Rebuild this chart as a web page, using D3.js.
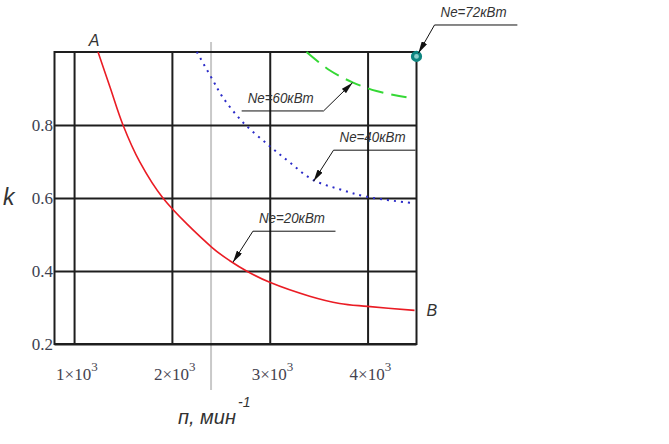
<!DOCTYPE html>
<html>
<head>
<meta charset="utf-8">
<script src="https://cdn.jsdelivr.net/npm/d3@7"></script>
<style>
  body { margin: 0; background: #fff; }
  svg { display: block; }
</style>
</head>
<body>
<svg id="chart"></svg>
<script>
// n, min^-1 vs k
const nNe20 = [1245, 1367, 1500, 1673, 1908, 2408, 2592, 2776, 3000, 3408, 3714, 4000, 4480];
const kNe20 = [1.0, 0.904, 0.8, 0.698, 0.6, 0.465, 0.428, 0.398, 0.369, 0.331, 0.311, 0.303, 0.292];

const nNe40 = [2255, 2418, 2520, 2724, 3000, 3203, 3439, 3714, 4000, 4460];
const kNe40 = [1.0, 0.923, 0.876, 0.808, 0.742, 0.698, 0.65, 0.624, 0.603, 0.586];

const nNe60 = [3376, 3612, 3846, 4091, 4398];
const kNe60 = [1.0, 0.95, 0.917, 0.893, 0.876];

const nNe72 = 4500;
const kNe72 = 0.988;

const nMarker = 2400;   // light grey vertical line

const xTicks = [1000, 2000, 3000, 4000];
const yTicks = [0.2, 0.4, 0.6, 0.8];

// callouts: tip (n,k), elbow (n,k), shelf end n
const calloutLabels = ['Ne=72кВт', 'Ne=60кВт', 'Ne=40кВт', 'Ne=20кВт'];
const calloutTipN = [4520, 3846, 3448, 2624];
const calloutTipK = [0.997, 0.916, 0.646, 0.424];
const calloutElbowN = [4684, 3550, 3652, 2828];
const calloutElbowK = [1.074, 0.8385, 0.731, 0.509];
const calloutEndN = [5531, 2713, 4490, 3672];

const W = 669, H = 444;
const svg = d3.select('#chart').attr('width', W).attr('height', H);

const x = d3.scaleLinear().domain([800, 4500]).range([54.5, 416.5]);
const y = d3.scaleLinear().domain([0.2, 1.0]).range([344, 52]);

const gridColor = '#1e1e1e';

// grey vertical line
svg.append('line')
  .attr('x1', x(nMarker)).attr('x2', x(nMarker))
  .attr('y1', 42).attr('y2', 390)
  .attr('stroke', '#c9c9c9').attr('stroke-width', 2);

// vertical grid
const gx = svg.append('g')
  .attr('transform', `translate(0,${y(0.2)})`)
  .call(d3.axisBottom(x).tickValues(xTicks).tickSize(-(y(0.2) - y(1.0))).tickFormat(''))
  .call(g => g.select('.domain').remove());
gx.selectAll('.tick line').attr('stroke', gridColor).attr('stroke-width', 2);
gx.selectAll('.tick text').remove();

// horizontal grid
const gy = svg.append('g')
  .attr('transform', `translate(${x(800)},0)`)
  .call(d3.axisLeft(y).tickValues(yTicks).tickSize(-(x(4500) - x(800))).tickFormat(''))
  .call(g => g.select('.domain').remove());
gy.selectAll('.tick line').attr('stroke', gridColor).attr('stroke-width', 2);
gy.selectAll('.tick text').remove();

// frame
svg.append('rect')
  .attr('x', x(800)).attr('y', y(1.0))
  .attr('width', x(4500) - x(800)).attr('height', y(0.2) - y(1.0))
  .attr('fill', 'none').attr('stroke', gridColor).attr('stroke-width', 2);

// tick labels
const tickFont = '"Liberation Serif", "Times New Roman", serif';
svg.append('g').selectAll('text')
  .data(yTicks)
  .join('text')
  .attr('x', 53)
  .attr('y', d => y(d) + 6)
  .attr('text-anchor', 'end')
  .attr('font-family', tickFont)
  .attr('font-size', 17)
  .attr('fill', '#3c4150')
  .text(d => d3.format('.1f')(d));

const xl = svg.append('g').selectAll('text')
  .data(xTicks)
  .join('text')
  .attr('x', d => x(d) - 18)
  .attr('y', 380)
  .attr('font-family', tickFont)
  .attr('font-size', 17)
  .attr('fill', '#45434f');
xl.append('tspan').text(d => d / 1000 + '×10');
xl.append('tspan').attr('dy', -9).attr('font-size', 13).text('3');

// curves
const line = (ns, ks) => d3.line()
  .x(i => x(ns[i]))
  .y(i => y(ks[i]))
  .curve(d3.curveCatmullRom.alpha(0.5))(d3.range(ns.length));

svg.append('path')
  .attr('d', line(nNe20, kNe20))
  .attr('fill', 'none').attr('stroke', '#ea1c24').attr('stroke-width', 1.6);

svg.append('path')
  .attr('d', line(nNe40, kNe40))
  .attr('fill', 'none').attr('stroke', '#2b2bc8').attr('stroke-width', 2)
  .attr('stroke-dasharray', '2,5');

svg.append('path')
  .attr('d', line(nNe60, kNe60))
  .attr('fill', 'none').attr('stroke', '#35d835').attr('stroke-width', 2)
  .attr('stroke-dasharray', '16,8');

svg.append('circle')
  .attr('cx', x(nNe72)).attr('cy', y(kNe72)).attr('r', 4)
  .attr('fill', '#8ccfcb').attr('stroke', '#0e8580').attr('stroke-width', 3.2);

// callouts
svg.append('defs').append('marker')
  .attr('id', 'arrow')
  .attr('viewBox', '0 0 12 6')
  .attr('refX', 12).attr('refY', 3)
  .attr('markerWidth', 12).attr('markerHeight', 6)
  .attr('markerUnits', 'userSpaceOnUse')
  .attr('orient', 'auto')
  .append('path')
  .attr('d', 'M0,0 L12,3 L0,6 Z')
  .attr('fill', '#111');

const labelFont = '"Liberation Sans", Arial, sans-serif';
calloutLabels.forEach((lab, i) => {
  const ex = x(calloutElbowN[i]), ey = y(calloutElbowK[i]);
  const sx = x(calloutEndN[i]);
  svg.append('line')
    .attr('x1', ex).attr('y1', ey).attr('x2', sx).attr('y2', ey)
    .attr('stroke', '#111').attr('stroke-width', 1);
  svg.append('line')
    .attr('x1', ex).attr('y1', ey)
    .attr('x2', x(calloutTipN[i])).attr('y2', y(calloutTipK[i]))
    .attr('stroke', '#111').attr('stroke-width', 1)
    .attr('marker-end', 'url(#arrow)');
  const left = Math.min(ex, sx);
  svg.append('text')
    .attr('x', left + 6)
    .attr('y', ey - 8)
    .attr('font-family', labelFont)
    .attr('font-style', 'italic')
    .attr('font-size', 14)
    .attr('fill', '#333')
    .attr('textLength', 66)
    .attr('lengthAdjust', 'spacingAndGlyphs')
    .text(lab);
});

// A and B end labels
svg.append('text')
  .attr('x', x(nNe20[0]) - 4).attr('y', y(kNe20[0]) - 6)
  .attr('font-family', labelFont).attr('font-style', 'italic')
  .attr('font-size', 16).attr('fill', '#333').attr('text-anchor', 'middle')
  .text('A');
svg.append('text')
  .attr('x', x(4500) + 10).attr('y', y(kNe20[kNe20.length - 1]) + 6)
  .attr('font-family', labelFont).attr('font-style', 'italic')
  .attr('font-size', 16).attr('fill', '#333')
  .text('B');

// axis titles
svg.append('text')
  .attr('x', 3).attr('y', 205)
  .attr('font-family', labelFont).attr('font-style', 'italic')
  .attr('font-size', 23).attr('fill', '#333')
  .text('k');

const xt = svg.append('text')
  .attr('x', 178).attr('y', 424)
  .attr('font-family', labelFont).attr('font-style', 'italic')
  .attr('font-size', 20).attr('fill', '#333');
xt.append('tspan').text('п, мин');
xt.append('tspan').attr('dx', 2).attr('dy', -17).attr('font-size', 14).text('-1');
</script>
</body>
</html>
